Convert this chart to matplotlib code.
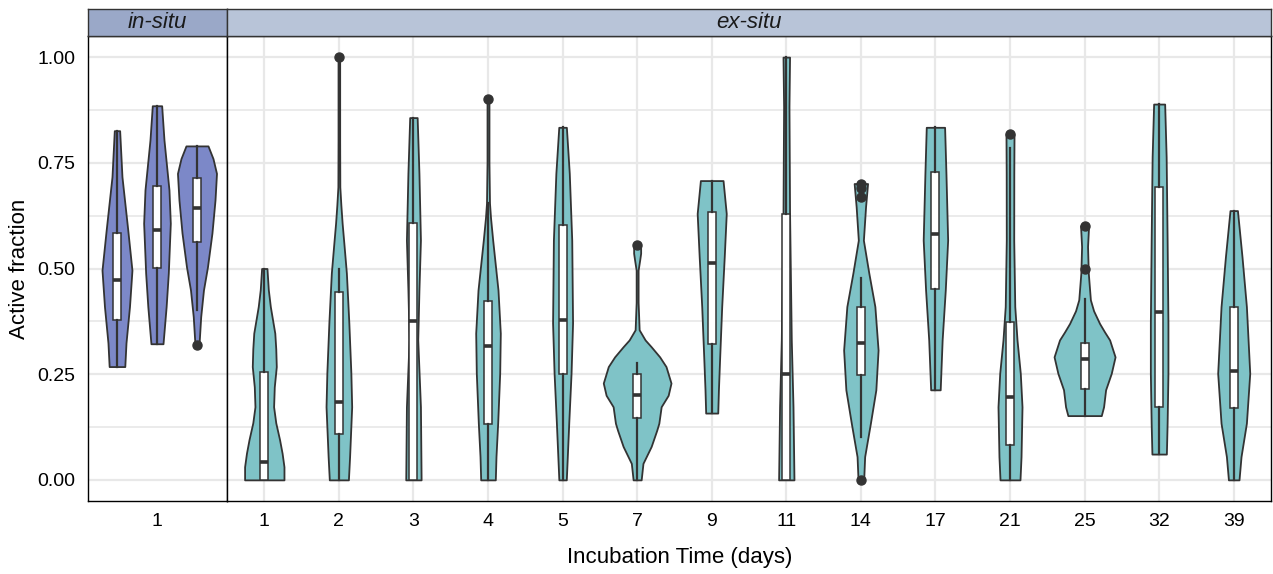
import matplotlib
matplotlib.use('Agg')
import matplotlib.pyplot as plt
from matplotlib.ticker import MultipleLocator, FormatStrFormatter

plt.rcParams['font.family'] = ['Liberation Sans', 'DejaVu Sans']

IN_FILL = '#7C88C8'
EX_FILL = '#7FC3C7'
LINE = '#333333'
GRID = '#E8E8E8'

# ---------------- in-situ (three sites at day 1) ----------------
insitu_label = '1'
insitu_violin_y = [
    [0.268, 0.324, 0.41, 0.496, 0.591, 0.717, 0.826],
    [0.322, 0.41, 0.489, 0.607, 0.686, 0.804, 0.885],
    [0.319, 0.386, 0.449, 0.504, 0.584, 0.662, 0.725, 0.76, 0.790],
]
insitu_violin_w = [
    [0.105, 0.121, 0.168, 0.201, 0.145, 0.067, 0.036],
    [0.081, 0.123, 0.152, 0.179, 0.161, 0.094, 0.063],
    [0.027, 0.050, 0.087, 0.141, 0.201, 0.242, 0.262, 0.215, 0.148],
]
insitu_q1 = [0.378, 0.502, 0.563]
insitu_med = [0.473, 0.591, 0.642]
insitu_q3 = [0.585, 0.695, 0.715]
insitu_lo = [0.268, 0.322, 0.402]
insitu_hi = [0.826, 0.885, 0.790]
insitu_out = [[], [], [0.319]]

# ---------------- ex-situ incubations ----------------
exsitu_days = ['1', '2', '3', '4', '5', '7', '9', '11', '14', '17', '21', '25', '32', '39']
exsitu_violin_y = [
    [0, 0.031, 0.063, 0.095, 0.135, 0.173, 0.22, 0.268, 0.31, 0.347, 0.41, 0.45, 0.5],
    [0, 0.055, 0.173, 0.253, 0.371, 0.489, 0.56, 0.607, 0.65, 0.693, 0.8, 1.0],
    [0, 0.173, 0.331, 0.45, 0.567, 0.725, 0.857],
    [0, 0.055, 0.135, 0.253, 0.347, 0.449, 0.567, 0.62, 0.655, 0.75, 0.9],
    [0, 0.135, 0.253, 0.371, 0.567, 0.725, 0.834],
    [0, 0.039, 0.079, 0.117, 0.134, 0.173, 0.2, 0.229, 0.268, 0.291, 0.315, 0.331, 0.355,
     0.42, 0.496, 0.52, 0.536, 0.556],
    [0.158, 0.213, 0.291, 0.41, 0.528, 0.63, 0.708],
    [0, 0.173, 0.331, 0.631, 0.883, 1.0],
    [0, 0.055, 0.134, 0.213, 0.307, 0.41, 0.489, 0.567, 0.646, 0.701],
    [0.213, 0.331, 0.449, 0.567, 0.725, 0.834],
    [0, 0.055, 0.173, 0.252, 0.331, 0.41, 0.567, 0.725, 0.818],
    [0.152, 0.173, 0.213, 0.252, 0.291, 0.331, 0.35, 0.37, 0.40, 0.426, 0.489, 0.552, 0.601],
    [0.061, 0.134, 0.252, 0.37, 0.567, 0.764, 0.889],
    [0, 0.055, 0.134, 0.252, 0.41, 0.528, 0.637],
]
exsitu_violin_w = [
    [0.264, 0.264, 0.239, 0.205, 0.154, 0.125, 0.134, 0.161, 0.154, 0.141, 0.081, 0.054, 0.036],
    [0.128, 0.144, 0.172, 0.161, 0.134, 0.101, 0.067, 0.044, 0.027, 0.013, 0.011, 0.011],
    [0.103, 0.094, 0.058, 0.074, 0.094, 0.074, 0.050],
    [0.098, 0.107, 0.130, 0.157, 0.165, 0.134, 0.063, 0.034, 0.020, 0.013, 0.013],
    [0.050, 0.083, 0.114, 0.134, 0.123, 0.090, 0.051],
    [0.054, 0.078, 0.188, 0.262, 0.291, 0.322, 0.416, 0.454, 0.387, 0.302, 0.188, 0.107, 0.027,
     0.013, 0.013, 0.034, 0.047, 0.047],
    [0.081, 0.090, 0.107, 0.134, 0.168, 0.195, 0.152],
    [0.103, 0.090, 0.067, 0.044, 0.036, 0.044],
    [0.038, 0.051, 0.128, 0.201, 0.231, 0.188, 0.107, 0.034, 0.063, 0.090],
    [0.064, 0.090, 0.132, 0.164, 0.141, 0.123],
    [0.134, 0.148, 0.161, 0.138, 0.094, 0.064, 0.050, 0.051, 0.054],
    [0.224, 0.255, 0.282, 0.358, 0.409, 0.336, 0.268, 0.201, 0.121, 0.078, 0.050, 0.040, 0.054],
    [0.097, 0.107, 0.118, 0.118, 0.107, 0.094, 0.074],
    [0.071, 0.098, 0.170, 0.215, 0.170, 0.111, 0.050],
]
exsitu_q1 = [0, 0.109, 0, 0.132, 0.25, 0.146, 0.321, 0, 0.248, 0.451, 0.083, 0.215, 0.173, 0.169]
exsitu_med = [0.042, 0.184, 0.376, 0.317, 0.378, 0.201, 0.514, 0.251, 0.323, 0.582, 0.197, 0.285, 0.396, 0.258]
exsitu_q3 = [0.256, 0.444, 0.607, 0.423, 0.603, 0.25, 0.634, 0.629, 0.41, 0.729, 0.374, 0.323, 0.693, 0.41]
exsitu_lo = [0, 0, 0, 0, 0, 0, 0.158, 0, 0.102, 0.213, 0, 0.152, 0.061, 0]
exsitu_hi = [0.5, 0.498, 0.857, 0.654, 0.834, 0.276, 0.708, 1.0, 0.477, 0.834, 0.786, 0.427, 0.889, 0.637]
exsitu_out = [[], [1.0], [], [0.901], [], [0.556], [], [], [0.701, 0.690, 0.670, 0.0],
              [], [0.818], [0.601, 0.500], [], []]

W, H = 1273, 574
fig = plt.figure(figsize=(W / 100, H / 100), dpi=100)


def px_box(l, t, r, b):
    return [l / W, 1 - b / H, (r - l) / W, (b - t) / H]


def draw_group(ax, x, vy, vw, q1, med, q3, lo, hi, fl, fill):
    ax.fill_betweenx(vy, [x - w for w in vw], [x + w for w in vw],
                     facecolor=fill, edgecolor=LINE, linewidth=1.3,
                     joinstyle='round', zorder=2)
    stats = [dict(q1=q1, med=med, q3=q3, whislo=lo, whishi=hi, fliers=fl)]
    ax.bxp(stats, positions=[x], widths=0.107, patch_artist=True,
           showcaps=False, manage_ticks=False, zorder=3,
           boxprops=dict(facecolor='white', edgecolor=LINE, linewidth=1.1),
           medianprops=dict(color=LINE, linewidth=2.6, solid_capstyle='butt'),
           whiskerprops=dict(color=LINE, linewidth=1.6),
           flierprops=dict(marker='o', markerfacecolor=LINE,
                           markeredgecolor=LINE, markersize=6.5))


def style_axis(ax):
    ax.set_ylim(-0.05, 1.05)
    ax.yaxis.set_major_locator(MultipleLocator(0.25))
    ax.yaxis.set_minor_locator(MultipleLocator(0.125))
    ax.yaxis.set_major_formatter(FormatStrFormatter('%.2f'))
    ax.grid(axis='y', which='major', color=GRID, linewidth=1.6)
    ax.grid(axis='y', which='minor', color=GRID, linewidth=1.2)
    ax.set_axisbelow(True)
    ax.tick_params(which='both', length=0, labelsize=14, labelcolor='black')
    ax.tick_params(axis='x', pad=9)
    ax.tick_params(axis='y', pad=9)
    for s in ax.spines.values():
        s.set_color('black')
        s.set_linewidth(1.0)


# in-situ panel
ax_in = fig.add_axes(px_box(88, 36, 227, 501))
dodge = [-0.537, 0.0, 0.537]
for i in range(len(insitu_q1)):
    draw_group(ax_in, 1 + dodge[i], insitu_violin_y[i], insitu_violin_w[i],
               insitu_q1[i], insitu_med[i], insitu_q3[i],
               insitu_lo[i], insitu_hi[i], insitu_out[i], IN_FILL)
style_axis(ax_in)
ax_in.set_xlim(0.074, 1.940)
ax_in.set_xticks([1])
ax_in.set_xticklabels([insitu_label])

# ex-situ panel
ax_ex = fig.add_axes(px_box(227, 36, 1271, 501))
for i in range(len(exsitu_days)):
    draw_group(ax_ex, i, exsitu_violin_y[i], exsitu_violin_w[i],
               exsitu_q1[i], exsitu_med[i], exsitu_q3[i],
               exsitu_lo[i], exsitu_hi[i], exsitu_out[i], EX_FILL)
style_axis(ax_ex)
ax_ex.set_xlim(-0.5, len(exsitu_days) - 0.5)
ax_ex.set_xticks(range(len(exsitu_days)))
ax_ex.set_xticklabels(exsitu_days)
ax_ex.grid(axis='x', which='major', color=GRID, linewidth=1.6)
ax_ex.tick_params(axis='y', labelleft=False)

# facet strips
for (l, r, label, color) in [(88, 227, 'in-situ', '#9AA8C8'), (227, 1271, 'ex-situ', '#B8C4D8')]:
    st = fig.add_axes(px_box(l, 9, r, 36))
    st.set_facecolor(color)
    st.set_xticks([])
    st.set_yticks([])
    for s in st.spines.values():
        s.set_color(LINE)
        s.set_linewidth(1.0)
    st.text(0.5, 0.5, label, transform=st.transAxes, ha='center', va='center',
            fontsize=16, fontstyle='italic', color='#1A1A1A')

fig.text(20 / W, 1 - 268.5 / H, 'Active fraction', rotation=90,
         ha='center', va='center', fontsize=16)
fig.text(679.5 / W, 1 - 558 / H, 'Incubation Time (days)',
         ha='center', va='center', fontsize=16)

fig.savefig('out.png', dpi=100)
